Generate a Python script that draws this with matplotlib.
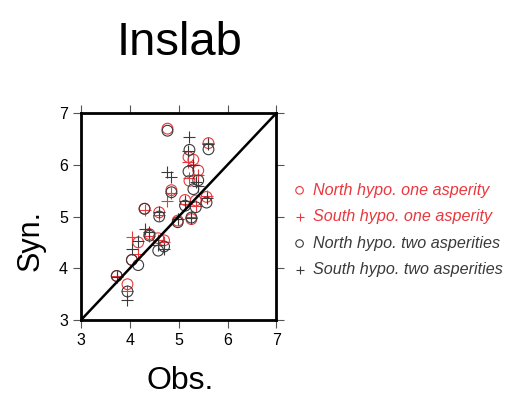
import matplotlib.pyplot as plt

plt.rcParams['font.family'] = ['Liberation Sans', 'DejaVu Sans']

# observed magnitude of each event
obs = [3.73, 3.95, 4.04, 4.17, 4.30, 4.40, 4.58, 4.60, 4.70, 4.77, 4.85,
       4.98, 5.13, 5.20, 5.22, 5.26, 5.30, 5.35, 5.40, 5.57, 5.61]

# synthetic values per scenario
north_one = [3.85, 3.69, 4.16, 4.50, 5.15, 4.66, 4.58, 5.08, 4.54, 6.70, 5.51,
             4.92, 5.32, 6.15, 5.69, 4.95, 6.10, 5.31, 5.89, 5.38, 6.42]
south_one = [3.85, 3.55, 4.60, 4.27, 5.13, 4.62, 4.55, 5.02, 4.50, 5.31, 5.45,
             4.95, 5.25, 6.05, 5.75, 5.00, 5.99, 5.20, 5.80, 5.40, 6.42]
north_two = [3.85, 3.55, 4.16, 4.06, 5.15, 4.63, 4.34, 5.00, 4.42, 6.66, 5.47,
             4.89, 5.21, 5.87, 6.29, 4.98, 5.53, 5.18, 5.70, 5.27, 6.30]
south_two = [3.83, 3.39, 4.37, 4.53, 4.76, 4.70, 4.45, 5.08, 4.37, 5.86, 5.76,
             4.95, 5.30, 6.26, 6.53, 4.98, 5.99, 5.66, 5.60, 5.35, 6.40]

labels = ['North hypo. one asperity', 'South hypo. one asperity',
          'North hypo. two asperities', 'South hypo. two asperities']

red = '#e8383d'
dark = '#3a3a3a'

fig = plt.figure(figsize=(5.07, 4.07), dpi=100)
ax = fig.add_axes([0.160, 0.214, 0.385, 0.508])

ax.scatter(obs, north_one, s=60, marker='o', facecolors='none',
           edgecolors=red, linewidths=0.8, label=labels[0])
ax.scatter(obs, south_one, s=75, marker='+', color=red,
           linewidths=0.8, label=labels[1])
ax.scatter(obs, north_two, s=60, marker='o', facecolors='none',
           edgecolors=dark, linewidths=0.8, label=labels[2])
ax.scatter(obs, south_two, s=75, marker='+', color=dark,
           linewidths=0.8, label=labels[3])

ax.plot([3, 7], [3, 7], color='black', lw=1.8)

ax.set_xlim(3, 7)
ax.set_ylim(3, 7)
ax.set_xticks([3, 4, 5, 6, 7])
ax.set_yticks([3, 4, 5, 6, 7])
ax.tick_params(direction='out', length=6, width=0.8, labelsize=11.5,
               top=True, right=True, color='#555555')
for sp in ax.spines.values():
    sp.set_linewidth(2)

fig.text(0.355, 0.895, 'Inslab', fontsize=34, ha='center', va='center')
fig.text(0.06, 0.41, 'Syn.', fontsize=22, rotation=90, ha='center', va='center')
fig.text(0.355, 0.065, 'Obs.', fontsize=23, ha='center', va='center')

ax.legend(loc='center left', bbox_to_anchor=(1.02, 0.435), frameon=False,
          prop={'style': 'italic', 'size': 11.6}, labelcolor=[red, red, dark, dark],
          markerscale=0.7, handletextpad=0.05, handlelength=1.6,
          labelspacing=0.72, borderaxespad=0)

fig.savefig('out.png', dpi=100)
